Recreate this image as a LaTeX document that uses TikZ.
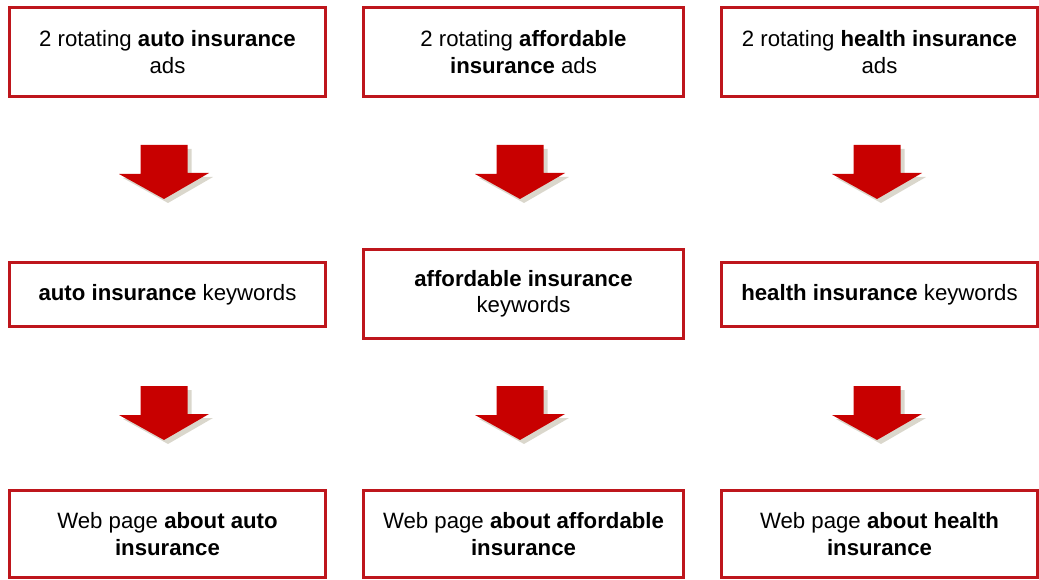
\documentclass[tikz,border=0pt]{standalone}
\usepackage{fontspec}
\setmainfont{Liberation Sans}
\usetikzlibrary{shadows}
\definecolor{boxred}{RGB}{190,22,28}
\definecolor{arrowred}{RGB}{200,0,0}
\definecolor{shadowtan}{RGB}{150,140,110}

\begin{document}
\begin{tikzpicture}[x=1pt, y=-1pt,
	box/.style={draw=boxred, line width=3pt, fill=white, align=center, minimum width=316pt, minimum height=89pt, inner sep=2pt, font=\fontsize{22.2}{26.5}\selectfont},
	midbox/.style={box, minimum width=320pt},
	flatbox/.style={box, minimum height=64pt},
	downarr/.pic={
		\fill[arrowred, drop shadow={shadow xshift=4pt, shadow yshift=-4pt, fill=shadowtan, opacity=0.35}]
			(-23.5,-27) -- (23.5,-27) -- (23.5,1) -- (45,1) -- (0,27) -- (-45,2) -- (-23.5,2) -- cycle;
	}]
	\useasboundingbox (0,0) rectangle (1039,580);

	% ads
	\node[box] (ads1) at (167.5,52) {2 rotating \textbf{auto insurance}\\ads};
	\node[midbox] (ads2) at (523.5,52) {2 rotating \textbf{affordable}\\\textbf{insurance} ads};
	\node[box] (ads3) at (879.5,52) {2 rotating \textbf{health insurance}\\ads};

	% keywords
	\node[flatbox] (kw1) at (167.5,294.5) {\textbf{auto insurance} keywords};
	\node[midbox, minimum height=89pt] (kw2) at (523.5,294) {\textbf{affordable insurance}\\keywords};
	\node[flatbox] (kw3) at (879.5,294.5) {\textbf{health insurance} keywords};

	% web pages
	\node[box, minimum height=87pt] (web1) at (167.5,534) {Web page \textbf{about auto}\\\textbf{insurance}};
	\node[midbox, minimum height=87pt] (web2) at (523.5,534) {Web page \textbf{about affordable}\\\textbf{insurance}};
	\node[box, minimum height=87pt] (web3) at (879.5,534) {Web page \textbf{about health}\\\textbf{insurance}};

	% block arrows
	\foreach \xx [count=\c] in {164, 520, 877}
	{
		\pic (arrA\c) at (\xx,172) {downarr};
		\pic (arrB\c) at (\xx,413) {downarr};
	}
\end{tikzpicture}
\end{document}
